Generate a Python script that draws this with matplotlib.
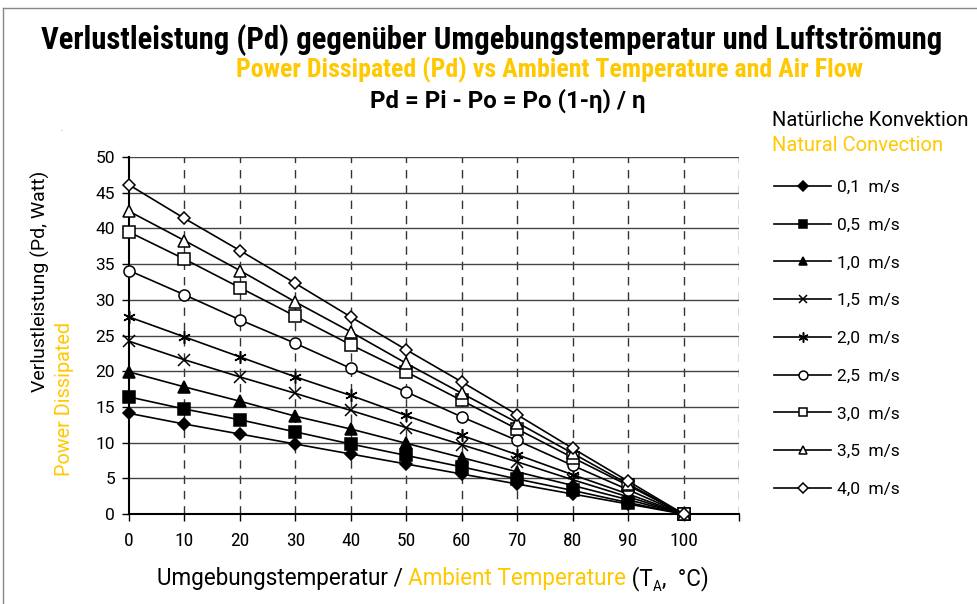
import matplotlib
matplotlib.use("Agg")
import matplotlib.pyplot as plt
from matplotlib.lines import Line2D
from matplotlib import font_manager

temps = [0, 10, 20, 30, 40, 50, 60, 70, 80, 90, 100]
airflow_labels = ["0,1  m/s", "0,5  m/s", "1,0  m/s", "1,5  m/s", "2,0  m/s",
                  "2,5  m/s", "3,0  m/s", "3,5  m/s", "4,0  m/s"]
pd_01 = [14.1, 12.6, 11.2, 9.8, 8.4, 7.0, 5.6, 4.2, 2.8, 1.4, 0]
pd_05 = [16.4, 14.7, 13.2, 11.5, 9.8, 8.2, 6.6, 4.9, 3.3, 1.6, 0]
pd_10 = [19.9, 17.8, 15.8, 13.7, 11.9, 9.9, 7.9, 5.9, 4.0, 2.0, 0]
pd_15 = [24.2, 21.6, 19.2, 16.9, 14.5, 12.1, 9.7, 7.3, 4.8, 2.4, 0]
pd_20 = [27.6, 24.8, 22.0, 19.2, 16.6, 13.8, 11.0, 8.3, 5.5, 2.8, 0]
pd_25 = [34.1, 30.7, 27.2, 23.9, 20.4, 17.1, 13.6, 10.3, 6.8, 3.4, 0]
pd_30 = [39.5, 35.7, 31.7, 27.7, 23.7, 19.9, 15.9, 11.9, 7.9, 4.0, 0]
pd_35 = [42.4, 38.3, 34.1, 29.7, 25.5, 21.1, 16.9, 12.8, 8.5, 4.2, 0]
pd_40 = [46.1, 41.4, 36.9, 32.3, 27.6, 23.0, 18.5, 13.9, 9.2, 4.6, 0]
series = [pd_01, pd_05, pd_10, pd_15, pd_20, pd_25, pd_30, pd_35, pd_40]
x_ticks = [0, 10, 20, 30, 40, 50, 60, 70, 80, 90, 100, 110]
x_tick_labels = ["0", "10", "20", "30", "40", "50", "60", "70", "80", "90", "100", ""]
y_ticks = [0, 5, 10, 15, 20, 25, 30, 35, 40, 45, 50]

markers = ["D", "s", "^", "x", (6, 2, 0), "o", "s", "^", "D"]
fills = [True, True, True, None, None, False, False, False, False]
msizes = [6, 8, 8, 8, 9, 8, 8, 8, 6]

YEL = "#FFC800"
avail = {f.name for f in font_manager.fontManager.ttflist}
narrow = "DejaVu Sans"
for cand in ["Liberation Sans Narrow", "Roboto Condensed", "DejaVu Sans Condensed",
             "Open Sans Condensed", "Roboto", "Liberation Sans"]:
    if cand in avail:
        narrow = cand
        break
base = "Roboto" if "Roboto" in avail else "DejaVu Sans"
plt.rcParams["font.family"] = [base, "DejaVu Sans"]

fig = plt.figure(figsize=(9.78, 6.04), dpi=100)
W, H = 978, 604
renderer = fig.canvas.get_renderer()


def fit_text(x0, x1, yc, s, **kw):
    t = fig.text(0.5 * (x0 + x1) / W, 1 - yc / H, s, ha="center", va="center",
                 fontsize=20, **kw)
    w = t.get_window_extent(renderer=renderer).width
    t.set_fontsize(20 * (x1 - x0) / w)
    return t


ax = fig.add_axes([129 / W, 1 - 514 / H, (739 - 129) / W, (514 - 157) / H])
ax.set_xlim(0, 110)
ax.set_ylim(0, 50)

for xv in x_ticks[1:]:
    ax.axvline(xv, color="#333333", lw=1.0, ls=(0, (6, 5)), zorder=1)
for yv in y_ticks[1:]:
    ax.axhline(yv, color="#444444", lw=1.0, zorder=1)

handles = []
for vals, m, f, ms, lab in zip(series, markers, fills, msizes, airflow_labels):
    kw = dict(color="black", lw=1.2, marker=m, markersize=ms, zorder=3,
              markeredgecolor="black", label=lab, clip_on=False)
    if f is True:
        kw["markerfacecolor"] = "black"
    elif f is False:
        kw["markerfacecolor"] = "white"
    kw["markeredgewidth"] = 1.1
    h, = ax.plot(temps, vals, **kw)
    handles.append(h)

for s in ["top", "right"]:
    ax.spines[s].set_visible(False)
ax.spines["left"].set_linewidth(1.5)
ax.spines["bottom"].set_linewidth(1.5)
ax.set_xticks(x_ticks)
ax.set_xticklabels(x_tick_labels, fontfamily=[narrow, "DejaVu Sans"], fontsize=14)
ax.set_yticks(y_ticks)
ax.set_yticklabels([str(v) for v in y_ticks], fontsize=12.5)
ax.tick_params(axis="both", direction="out", length=5, width=1.0, colors="black")
ax.tick_params(axis="x", pad=8)
ax.tick_params(axis="y", pad=5)

# Titles
fit_text(42, 942, 40,
         "Verlustleistung (Pd) gegenüber Umgebungstemperatur und Luftströmung",
         fontweight="bold", family=[narrow, "DejaVu Sans"])
fit_text(237, 862, 70,
         "Power Dissipated (Pd) vs Ambient Temperature and Air Flow",
         fontweight="bold", color=YEL, family=[narrow, "DejaVu Sans"])
fit_text(370, 645, 101, "Pd = Pi - Po = Po (1-η) / η",
         fontweight="bold", family=[base, "DejaVu Sans"])
fig.text(62 / W, 1 - 129 / H, ".", fontsize=6, color="#777777", ha="center", va="center")

# Y label
fig.text(40 / W, 1 - 392 / H, "Verlustleistung (Pd, Watt)", rotation=90,
         ha="center", va="bottom", fontsize=14)
fig.text(65 / W, 1 - 476 / H, "Power Dissipated", rotation=90, color=YEL,
         ha="center", va="bottom", fontsize=14.3)

# X label (multi-colour), scaled to span x=157..713
parts = [("Umgebungstemperatur / ", "black", 1.0, 0), ("Ambient Temperature", YEL, 1.0, 0),
         (" (T", "black", 1.0, 0), ("A", "black", 0.6, -8), (",  °C)", "black", 1.0, 0)]
xl_y = 1 - 579 / H


def draw_xlabel(size):
    xpos = 157
    arts = []
    for txt, col, sc, dy in parts:
        t = fig.text(xpos / W, xl_y + dy / H, txt, color=col, fontsize=size * sc,
                     ha="left", va="center", family=[base, "DejaVu Sans"])
        xpos = t.get_window_extent(renderer=renderer).x1
        arts.append(t)
    return arts, xpos


arts, xend = draw_xlabel(14)
for a in arts:
    a.remove()
size = 14 * (713 - 157) / (xend - 157)
draw_xlabel(size)

# Legend
fig.text(772 / W, 1 - 120 / H, "Natürliche Konvektion", fontsize=14.5, ha="left", va="center")
fig.text(772 / W, 1 - 145 / H, "Natural Convection", fontsize=14.5, color=YEL,
         ha="left", va="center")
leg = fig.legend(handles=handles, loc="upper left",
                 bbox_to_anchor=(767 / W, 1 - 173 / H), frameon=False,
                 fontsize=12.5, handlelength=3.3, handletextpad=0.35,
                 labelspacing=1.3, borderaxespad=0, markerscale=0.8)

# Figure border (partial)
fig.add_artist(Line2D([3 / W, 1], [1 - 8 / H, 1 - 8 / H], color="#888888", lw=1.0))
fig.add_artist(Line2D([3 / W, 3 / W], [0, 1 - 8 / H], color="#888888", lw=1.0))

fig.savefig("out.png", dpi=100)
